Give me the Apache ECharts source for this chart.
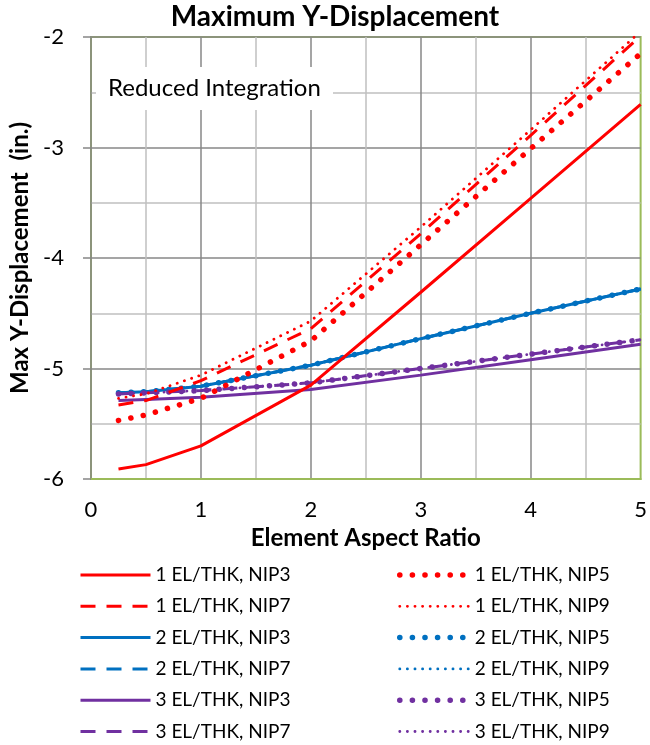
<!DOCTYPE html>
<html>
<head>
<meta charset="utf-8">
<script src="https://cdn.jsdelivr.net/npm/echarts@6/dist/echarts.min.js"></script>
<style>
html,body{margin:0;padding:0;background:#fff;}
#chart{width:650px;height:745px;}
</style>
</head>
<body>
<div id="chart"></div>
<script>
// ---- data ----
const xValues = [0.25, 0.5, 1, 2, 3, 4, 5];

const el1_nip3 = [-5.91, -5.87, -5.70, -5.15, -4.31, -3.46, -2.61];
const el1_nip5 = [-5.47, -5.42, -5.27, -4.75, -3.88, -3.01, -2.15];
const el1_nip7 = [-5.33, -5.29, -5.11, -4.64, -3.78, -2.89, -1.99];
const el1_nip9 = [-5.27, -5.23, -5.06, -4.57, -3.72, -2.84, -1.95];

const el2_nip3 = [-5.22, -5.21, -5.16, -4.97, -4.73, -4.50, -4.28];
const el2_nip5 = [-5.22, -5.21, -5.16, -4.97, -4.73, -4.50, -4.28];
const el2_nip7 = [-5.22, -5.21, -5.16, -4.97, -4.73, -4.50, -4.28];
const el2_nip9 = [-5.22, -5.21, -5.16, -4.97, -4.73, -4.50, -4.28];

const el3_nip3 = [-5.29, -5.28, -5.26, -5.19, -5.06, -4.92, -4.78];
const el3_nip5 = [-5.23, -5.22, -5.20, -5.13, -5.00, -4.87, -4.74];
const el3_nip7 = [-5.23, -5.22, -5.20, -5.13, -5.00, -4.87, -4.74];
const el3_nip9 = [-5.23, -5.22, -5.20, -5.13, -5.00, -4.87, -4.74];

const yTicks = [-6, -5, -4, -3, -2];
const xTicks = [0, 1, 2, 3, 4, 5];

const chartTitle = 'Maximum Y-Displacement';
const xName = 'Element Aspect Ratio';
const yName = 'Max Y-Displacement  (in.)';
const noteText = 'Reduced Integration';

const legendLeft = ['1 EL/THK, NIP3', '1 EL/THK, NIP7', '2 EL/THK, NIP3', '2 EL/THK, NIP7', '3 EL/THK, NIP3', '3 EL/THK, NIP7'];
const legendRight = ['1 EL/THK, NIP5', '1 EL/THK, NIP9', '2 EL/THK, NIP5', '2 EL/THK, NIP9', '3 EL/THK, NIP5', '3 EL/THK, NIP9'];

// ---- styling ----
const RED = '#FF0000', BLUE = '#0070C0', PURPLE = '#7030A0';
const FONT = 'Lato';
const styles = {
  NIP3: {width: 3, type: 'solid', cap: 'butt'},
  NIP5: {width: 5.5, type: [0.1, 12.5], cap: 'round'},
  NIP7: {width: 3, type: [15, 11], cap: 'butt'},
  NIP9: {width: 2.8, type: [0.1, 7.5], cap: 'round'}
};

function pairs(ys) { return xValues.map((x, i) => [x, ys[i]]); }

const defs = [
  ['2 EL/THK, NIP3', el2_nip3, BLUE, 'NIP3'],
  ['2 EL/THK, NIP5', el2_nip5, BLUE, 'NIP5'],
  ['2 EL/THK, NIP7', el2_nip7, BLUE, 'NIP7'],
  ['2 EL/THK, NIP9', el2_nip9, BLUE, 'NIP9'],
  ['3 EL/THK, NIP3', el3_nip3, PURPLE, 'NIP3'],
  ['3 EL/THK, NIP5', el3_nip5, PURPLE, 'NIP5'],
  ['3 EL/THK, NIP7', el3_nip7, PURPLE, 'NIP7'],
  ['3 EL/THK, NIP9', el3_nip9, PURPLE, 'NIP9'],
  ['1 EL/THK, NIP3', el1_nip3, RED, 'NIP3'],
  ['1 EL/THK, NIP5', el1_nip5, RED, 'NIP5'],
  ['1 EL/THK, NIP7', el1_nip7, RED, 'NIP7'],
  ['1 EL/THK, NIP9', el1_nip9, RED, 'NIP9']
];
const kindOf = {};
defs.forEach(d => { kindOf[d[0]] = d[3]; });

const series = defs.map(([name, ys, color, k]) => ({
  name: name,
  type: 'line',
  data: pairs(ys),
  symbol: 'none',
  clip: true,
  color: color,
  lineStyle: {color: color, width: styles[k].width, type: styles[k].type, cap: styles[k].cap},
  emphasis: {disabled: true}
}));

function legendData(names) {
  return names.map(n => ({
    name: n,
    itemStyle: {opacity: 0},
    lineStyle: {width: styles[kindOf[n]].width, type: styles[kindOf[n]].type, cap: styles[kindOf[n]].cap}
  }));
}

const legendCommon = {
  orient: 'vertical',
  padding: 0,
  itemWidth: 70,
  itemHeight: 14,
  itemGap: 12.3,
  textStyle: {fontFamily: FONT, fontSize: 19, lineHeight: 19, color: '#000'},
  selectedMode: false
};

const option = {
  animation: false,
  backgroundColor: '#fff',
  title: {
    text: chartTitle,
    left: 335, top: 3, textAlign: 'center', padding: 0,
    textStyle: {fontFamily: FONT, fontWeight: 'bold', fontSize: 28, color: '#000'}
  },
  grid: {
    left: 91, right: 5, top: 37, bottom: 266,
    show: true, borderColor: '#9BBB59', borderWidth: 2, backgroundColor: 'transparent'
  },
  xAxis: {
    type: 'value', min: xTicks[0], max: xTicks[xTicks.length - 1], interval: 1,
    name: xName, nameLocation: 'middle', nameGap: 46,
    nameTextStyle: {fontFamily: FONT, fontWeight: 'bold', fontSize: 24, color: '#000'},
    axisLine: {show: true, lineStyle: {color: '#9BBB59', width: 2}},
    axisTick: {show: false},
    axisLabel: {fontFamily: FONT, fontSize: 22, color: '#000', margin: 20},
    splitLine: {show: true, showMinLine: false, showMaxLine: false, lineStyle: {color: '#878787', width: 1.5}},
    minorTick: {show: false, splitNumber: 2},
    minorSplitLine: {show: true, lineStyle: {color: '#C0C0C0', width: 1.5}}
  },
  yAxis: {
    type: 'value', min: yTicks[0], max: yTicks[yTicks.length - 1], interval: 1,
    name: yName, nameLocation: 'middle', nameGap: 52, nameRotate: 90,
    nameTextStyle: {fontFamily: FONT, fontWeight: 'bold', fontSize: 24, color: '#000'},
    axisLine: {show: true, lineStyle: {color: '#878787', width: 1.5}},
    axisTick: {show: true, inside: false, length: 8, lineStyle: {color: '#878787', width: 1.5}},
    axisLabel: {fontFamily: FONT, fontSize: 22, color: '#000', margin: 27},
    splitLine: {show: true, showMinLine: false, lineStyle: {color: '#878787', width: 1.5}},
    minorTick: {show: false, splitNumber: 2},
    minorSplitLine: {show: true, lineStyle: {color: '#C0C0C0', width: 1.5}}
  },
  legend: [
    Object.assign({}, legendCommon, {left: 79, top: 565.5, data: legendData(legendLeft)}),
    Object.assign({}, legendCommon, {left: 397, top: 565.5, data: legendData(legendRight)})
  ],
  graphic: [
    {type: 'rect', left: 96, top: 67, z: 100, zlevel: 0,
      shape: {width: 237, height: 43}, style: {fill: '#ffffff'}},
    {type: 'text', left: 108, top: 76, z: 101, zlevel: 0,
      style: {text: noteText, font: '24px Lato', fill: '#000'}}
  ],
  series: series
};

const chart = echarts.init(document.getElementById('chart'), null, {renderer: 'canvas'});
chart.setOption(option);
</script>
</body>
</html>
